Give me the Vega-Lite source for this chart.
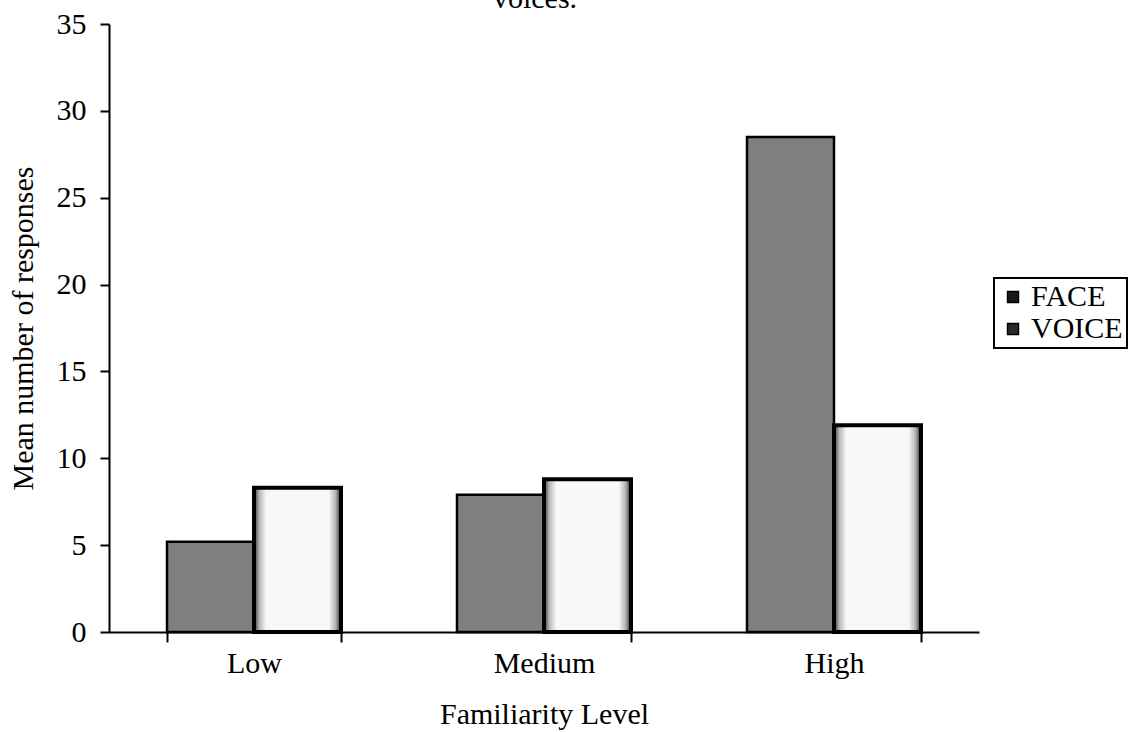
{
  "$schema": "https://vega.github.io/schema/vega-lite/v6.json",
  "autosize": "none",
  "width": 870,
  "height": 608,
  "padding": {"left": 109, "top": 24, "right": 149, "bottom": 100},
  "background": "white",
  "config": {
    "view": {"stroke": null},
    "font": "Liberation Serif"
  },
  "data": {
    "values": [
      {"Level": "Low", "Modality": "FACE", "Mean": 5.2},
      {"Level": "Low", "Modality": "VOICE", "Mean": 8.3},
      {"Level": "Medium", "Modality": "FACE", "Mean": 7.9},
      {"Level": "Medium", "Modality": "VOICE", "Mean": 8.8},
      {"Level": "High", "Modality": "FACE", "Mean": 28.5},
      {"Level": "High", "Modality": "VOICE", "Mean": 11.9}
    ]
  },
  "layer": [
    {
      "mark": {"type": "bar"},
      "encoding": {
        "x": {
          "field": "Level",
          "type": "nominal",
          "sort": ["Low", "Medium", "High"],
          "scale": {"domain": ["Low", "Medium", "High"], "paddingInner": 0.4, "paddingOuter": 0.2},
          "axis": {
            "title": "Familiarity Level",
            "titleFont": "Liberation Serif",
            "titleFontSize": 30,
            "titleFontWeight": "normal",
            "titleColor": "black",
            "titlePadding": 21,
            "labelFont": "Liberation Serif",
            "labelFontSize": 30,
            "labelColor": "black",
            "labelAngle": 0,
            "labelPadding": 6,
            "tickBand": "extent",
            "tickSize": 10,
            "tickWidth": 2,
            "tickColor": "black",
            "domainColor": "black",
            "domainWidth": 2
          }
        },
        "xOffset": {"field": "Modality", "type": "nominal", "scale": {"domain": ["FACE", "VOICE"]}},
        "y": {
          "field": "Mean",
          "type": "quantitative",
          "scale": {"domain": [0, 35], "nice": false},
          "axis": {
            "title": "Mean number of responses",
            "titleFont": "Liberation Serif",
            "titleFontSize": 30,
            "titleFontWeight": "normal",
            "titleColor": "black",
            "titlePadding": 18,
            "values": [0, 5, 10, 15, 20, 25, 30, 35],
            "labelFont": "Liberation Serif",
            "labelFontSize": 30,
            "labelColor": "black",
            "labelPadding": 14,
            "tickSize": 9,
            "tickWidth": 2,
            "tickColor": "black",
            "domainColor": "black",
            "domainWidth": 2,
            "grid": false
          }
        },
        "fill": {
          "field": "Modality",
          "type": "nominal",
          "scale": {"domain": ["FACE", "VOICE"], "range": ["#1a1a1a", "#2a2a2a"]},
          "legend": {
            "title": null,
            "orient": "none",
            "legendX": 885,
            "legendY": 254,
            "strokeColor": "black",
            "padding": 4,
            "symbolType": "square",
            "symbolSize": 120,
            "symbolStrokeColor": "black",
            "labelFont": "Liberation Serif",
            "labelFontSize": 30,
            "labelColor": "black",
            "labelOffset": 3,
            "rowPadding": 2,
            "labelLimit": 200,
            "encode": {"legend": {"update": {"strokeWidth": {"value": 2}}}}
          }
        }
      }
    },
    {
      "transform": [{"filter": "datum.Modality === 'FACE'"}],
      "mark": {"type": "bar", "stroke": "black", "strokeWidth": 2.5, "fill": "#7f7f7f"},
      "encoding": {
        "x": {"field": "Level", "type": "nominal", "title": "Familiarity Level"},
        "xOffset": {"field": "Modality", "type": "nominal"},
        "y": {"field": "Mean", "type": "quantitative", "title": "Mean number of responses"}
      }
    },
    {
      "transform": [{"filter": "datum.Modality === 'VOICE'"}],
      "mark": {
        "type": "bar",
        "stroke": "black",
        "strokeWidth": 4,
        "fill": {
          "gradient": "linear",
          "x1": 0, "y1": 0, "x2": 1, "y2": 0,
          "stops": [
            {"offset": 0, "color": "#333333"},
            {"offset": 0.06, "color": "#b5b5b5"},
            {"offset": 0.14, "color": "#f8f8f8"},
            {"offset": 0.86, "color": "#f8f8f8"},
            {"offset": 0.94, "color": "#b0b0b0"},
            {"offset": 1, "color": "#222222"}
          ]
        }
      },
      "encoding": {
        "x": {"field": "Level", "type": "nominal", "title": "Familiarity Level"},
        "xOffset": {"field": "Modality", "type": "nominal"},
        "y": {"field": "Mean", "type": "quantitative", "title": "Mean number of responses"}
      }
    },
    {
      "data": {"values": [{"caption": "voices."}]},
      "mark": {
        "type": "text",
        "font": "Liberation Serif",
        "fontSize": 30,
        "color": "black",
        "align": "center",
        "baseline": "alphabetic",
        "dx": -9,
        "dy": -16
      },
      "encoding": {
        "text": {"field": "caption", "type": "nominal"},
        "x": {"datum": "Medium", "type": "nominal", "title": "Familiarity Level"},
        "y": {"datum": 35, "type": "quantitative", "title": "Mean number of responses"}
      }
    }
  ]
}
